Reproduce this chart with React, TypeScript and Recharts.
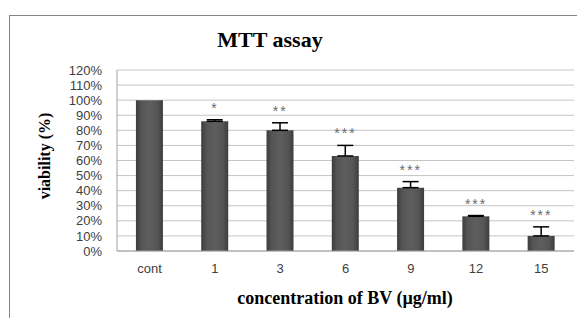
import { ComposedChart, Bar, Line, XAxis, YAxis, CartesianGrid, ErrorBar, LabelList } from 'recharts';

// MTT assay: viability (%) by BV concentration
const CATEGORIES = ['cont', '1', '3', '6', '9', '12', '15'];
const VIABILITY = [100, 86, 80, 63, 42, 23, 10];
const ERRORS = [null, 1, 5, 7, 4, 0.5, 6];
const STARS = ['', '*', '**', '***', '***', '***', '***'];
const Y_TICKS = [0, 10, 20, 30, 40, 50, 60, 70, 80, 90, 100, 110, 120];

const data = CATEGORIES.map((c, i) => ({
  name: c,
  value: VIABILITY[i],
  err: ERRORS[i] == null ? null : [0, ERRORS[i]],
  top: VIABILITY[i] + (ERRORS[i] ?? 0),
  stars: STARS[i],
}));

const serif = '"Liberation Serif", "DejaVu Serif", serif';
const sans = '"Liberation Sans", Arial, sans-serif';

export default function App() {
  return (
    <div style={{ position: 'absolute', left: 0, top: 0, width: 577, height: 318, background: '#fff', overflow: 'hidden' }}>
      <div
        style={{
          position: 'absolute',
          left: 9,
          top: 15,
          width: 620,
          height: 340,
          border: '1px solid #858585',
        }}
      />
      <div
        style={{
          position: 'absolute',
          left: 170,
          width: 200,
          top: 27,
          textAlign: 'center',
          fontFamily: serif,
          fontWeight: 'bold',
          fontSize: 22,
          color: '#000',
        }}
      >
        MTT assay
      </div>
      <div
        style={{
          position: 'absolute',
          left: 195,
          width: 300,
          top: 288,
          textAlign: 'center',
          fontFamily: serif,
          fontWeight: 'bold',
          fontSize: 18,
          color: '#000',
        }}
      >
        concentration of BV (µg/ml)
      </div>
      <div
        style={{
          position: 'absolute',
          left: -55,
          width: 200,
          top: 147,
          textAlign: 'center',
          fontFamily: serif,
          fontWeight: 'bold',
          fontSize: 16,
          color: '#000',
          transform: 'rotate(-90deg)',
        }}
      >
        viability (%)
      </div>
      <div style={{ position: 'absolute', left: 0, top: 0 }}>
        <ComposedChart
          width={577}
          height={318}
          data={data}
          margin={{ top: 70, right: 3, bottom: 37, left: 0 }}
          barCategoryGap="29%"
        >
          <defs>
            <linearGradient id="barFill" x1="0" y1="0" x2="1" y2="0">
              <stop offset="0%" stopColor="#3c3c3c" />
              <stop offset="20%" stopColor="#555555" />
              <stop offset="50%" stopColor="#5e5e5e" />
              <stop offset="80%" stopColor="#555555" />
              <stop offset="100%" stopColor="#3c3c3c" />
            </linearGradient>
          </defs>
          <CartesianGrid vertical={false} stroke="#c4c4c4" />
          <XAxis
            dataKey="name"
            height={30}
            tickLine={false}
            tickSize={0}
            tickMargin={13}
            axisLine={{ stroke: '#a0a0a0' }}
            tick={{ fill: '#404040', fontSize: 13, fontFamily: sans }}
          />
          <YAxis
            width={117}
            domain={[0, 120]}
            ticks={Y_TICKS}
            interval={0}
            tickLine={false}
            tickSize={0}
            tickMargin={15}
            axisLine={{ stroke: '#a0a0a0' }}
            tickFormatter={(v) => `${v}%`}
            tick={{ fill: '#404040', fontSize: 13, fontFamily: sans }}
          />
          <Bar dataKey="value" fill="url(#barFill)" isAnimationActive={false}>
            <ErrorBar dataKey="err" direction="y" width={8} stroke="#000" strokeWidth={1.5} />
          </Bar>
          <Line dataKey="top" stroke="none" dot={false} activeDot={false} isAnimationActive={false}>
            <LabelList
              dataKey="stars"
              position="top"
              offset={7}
              style={{ fill: '#6a6a6a', fontSize: 14, fontFamily: sans, letterSpacing: 2 }}
            />
          </Line>
        </ComposedChart>
      </div>
    </div>
  );
}
